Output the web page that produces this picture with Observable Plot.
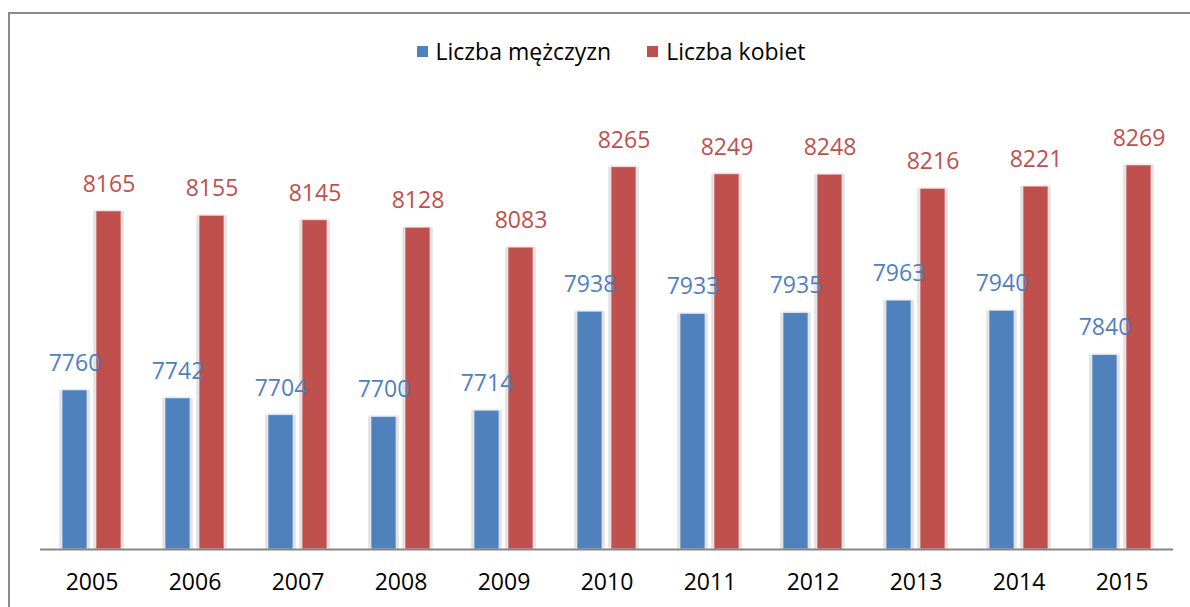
<!DOCTYPE html>
<html>
<head>
<meta charset="utf-8">
<script src="https://cdn.jsdelivr.net/npm/d3@7"></script>
<script src="https://cdn.jsdelivr.net/npm/@observablehq/plot@0.6"></script>
<style>
  html, body { margin: 0; padding: 0; background: #fff; overflow: hidden; }
  body { width: 1190px; height: 607px; position: relative; font-family: "Open Sans", Lato, sans-serif; }
  #frame { position: absolute; left: 8px; top: 12px; width: 1200px; height: 620px; border-left: 2px solid #8a8a8a; border-top: 2px solid #8a8a8a; box-sizing: border-box; }
  #legend { position: absolute; top: 35px; left: 0; width: 1222px; display: flex; justify-content: center; align-items: center; font-size: 23px; color: #000; }
  .item { display: flex; align-items: center; margin: 0 18px; }
  .sw { width: 11px; height: 11px; margin-right: 8px; }
  #chart { position: absolute; left: 0; top: 0; }
</style>
</head>
<body>
<div id="frame"></div>
<div id="chart"></div>
<div id="legend"></div>
<script>
const years = ["2005","2006","2007","2008","2009","2010","2011","2012","2013","2014","2015"];
const men   = [7760, 7742, 7704, 7700, 7714, 7938, 7933, 7935, 7963, 7940, 7840];
const women = [8165, 8155, 8145, 8128, 8083, 8265, 8249, 8248, 8216, 8221, 8269];
const seriesNames = ["Liczba mężczyzn", "Liczba kobiet"];
const seriesColors = ["#4F81BD", "#C0504D"];

const data = [];
years.forEach((y, i) => {
  data.push({year: y, series: seriesNames[0], value: men[i]});
  data.push({year: y, series: seriesNames[1], value: women[i]});
});

const base = 7400;

const chart = Plot.plot({
  width: 1190,
  height: 607,
  marginLeft: 38,
  marginRight: 16,
  marginTop: 107,
  marginBottom: 58,
  style: {fontFamily: "'Open Sans', Lato, sans-serif", background: "transparent"},
  fx: {domain: years, padding: 0, label: null},
  x: {domain: seriesNames, paddingInner: 0.257, paddingOuter: 0.6, axis: null},
  y: {domain: [base, 8400], axis: null},
  color: {domain: seriesNames, range: seriesColors},
  marks: [
    Plot.barY(data, {fx: "year", x: "series", y1: base, y2: "value", fill: "#000", fillOpacity: 0.09, insetLeft: -3, insetRight: -3}),
    Plot.barY(data, {fx: "year", x: "series", y1: base, y2: "value", fill: "#000", fillOpacity: 0.06, insetLeft: -1.5, insetRight: -1.5, dy: -1.5}),
    Plot.barY(data, {fx: "year", x: "series", y1: base, y2: "value", fill: "series", stroke: "#fff", strokeOpacity: 0.6, strokeWidth: 1}),
    Plot.ruleY([base], {stroke: "#868686", strokeWidth: 2}),
    Plot.text(data, {fx: "year", x: "series", y: "value", text: d => String(d.value), fill: "series", dy: -27, fontSize: 23, lineAnchor: "middle"}),
    Plot.axisFx({anchor: "bottom", tickSize: 0, tickPadding: 24, fontSize: 23, label: null, fill: "#000"})
  ]
});
document.getElementById("chart").appendChild(chart);

const legend = document.getElementById("legend");
seriesNames.forEach((n, i) => {
  const it = document.createElement("div");
  it.className = "item";
  const sw = document.createElement("div");
  sw.className = "sw";
  sw.style.background = seriesColors[i];
  const t = document.createElement("span");
  t.textContent = n;
  it.appendChild(sw);
  it.appendChild(t);
  legend.appendChild(it);
});
</script>
</body>
</html>
